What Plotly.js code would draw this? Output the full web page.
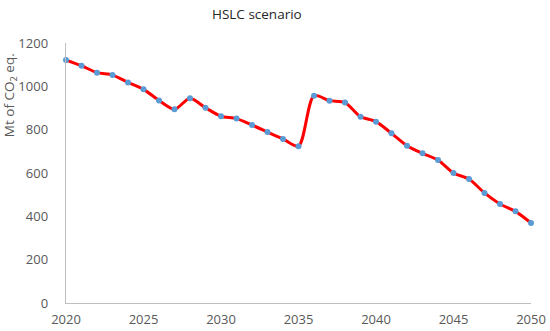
<!DOCTYPE html>
<html>
<head>
<meta charset="utf-8">
<script src="https://cdn.plot.ly/plotly-3.0.1.min.js"></script>
<style>html,body{margin:0;padding:0;background:#fff;}#chart{width:550px;height:331px;}</style>
</head>
<body>
<div id="chart"></div>
<script>
const years = [2020,2021,2022,2023,2024,2025,2026,2027,2028,2029,2030,2031,2032,2033,2034,2035,2036,2037,2038,2039,2040,2041,2042,2043,2044,2045,2046,2047,2048,2049,2050];
const emissions = [1121,1095,1063,1052,1018,986,935,894,945,901,862,851,821,789,757,724,957,934,925,860,837,783,726,691,660,600,572,508,457,423,369];
const xTicks = [2020,2025,2030,2035,2040,2045,2050];
const yTicks = [0,200,400,600,800,1000,1200];

const trace = {
  x: years, y: emissions, type: 'scatter', mode: 'lines+markers',
  line: {color: '#ff0000', width: 3, shape: 'spline', smoothing: 0.8},
  marker: {color: '#5b9bd5', size: 6},
  cliponaxis: false,
  hoverinfo: 'x+y'
};
const tickFont = {family: 'Open Sans, Liberation Sans, sans-serif', size: 13, color: '#595959'};
const layout = {
  width: 550, height: 331,
  margin: {l: 66, r: 19, t: 43, b: 28},
  paper_bgcolor: '#fff', plot_bgcolor: '#fff',
  showlegend: false,
  title: {text: 'HSLC scenario', x: 0.467, xanchor: 'center', xref: 'container', y: 0.957, yanchor: 'middle', yref: 'container',
          font: {family: 'Open Sans, Liberation Sans, sans-serif', size: 13.5, color: '#262626'}},
  xaxis: {range: [2020, 2050], tickvals: xTicks, ticktext: xTicks.map(String), showgrid: false, zeroline: false,
          showline: true, linecolor: '#bfbfbf', linewidth: 1.3, ticks: '', ticklabelstandoff: 4, tickfont: tickFont, fixedrange: true},
  yaxis: {range: [0, 1200], tickvals: yTicks, ticktext: yTicks.map(String), showgrid: false, zeroline: false,
          showline: true, linecolor: '#bfbfbf', linewidth: 1.3, ticks: '', ticklabelstandoff: 14, tickfont: tickFont, fixedrange: true},
  annotations: [{
    text: 'Mt of CO<sub>2</sub> eq.', xref: 'paper', yref: 'paper', x: -0.12, y: 0.80,
    xanchor: 'center', yanchor: 'middle', textangle: -90, showarrow: false,
    font: {family: 'Open Sans, Liberation Sans, sans-serif', size: 13.5, color: '#595959'}
  }]
};
Plotly.newPlot('chart', [trace], layout, {displayModeBar: false, staticPlot: true});
</script>
</body>
</html>
